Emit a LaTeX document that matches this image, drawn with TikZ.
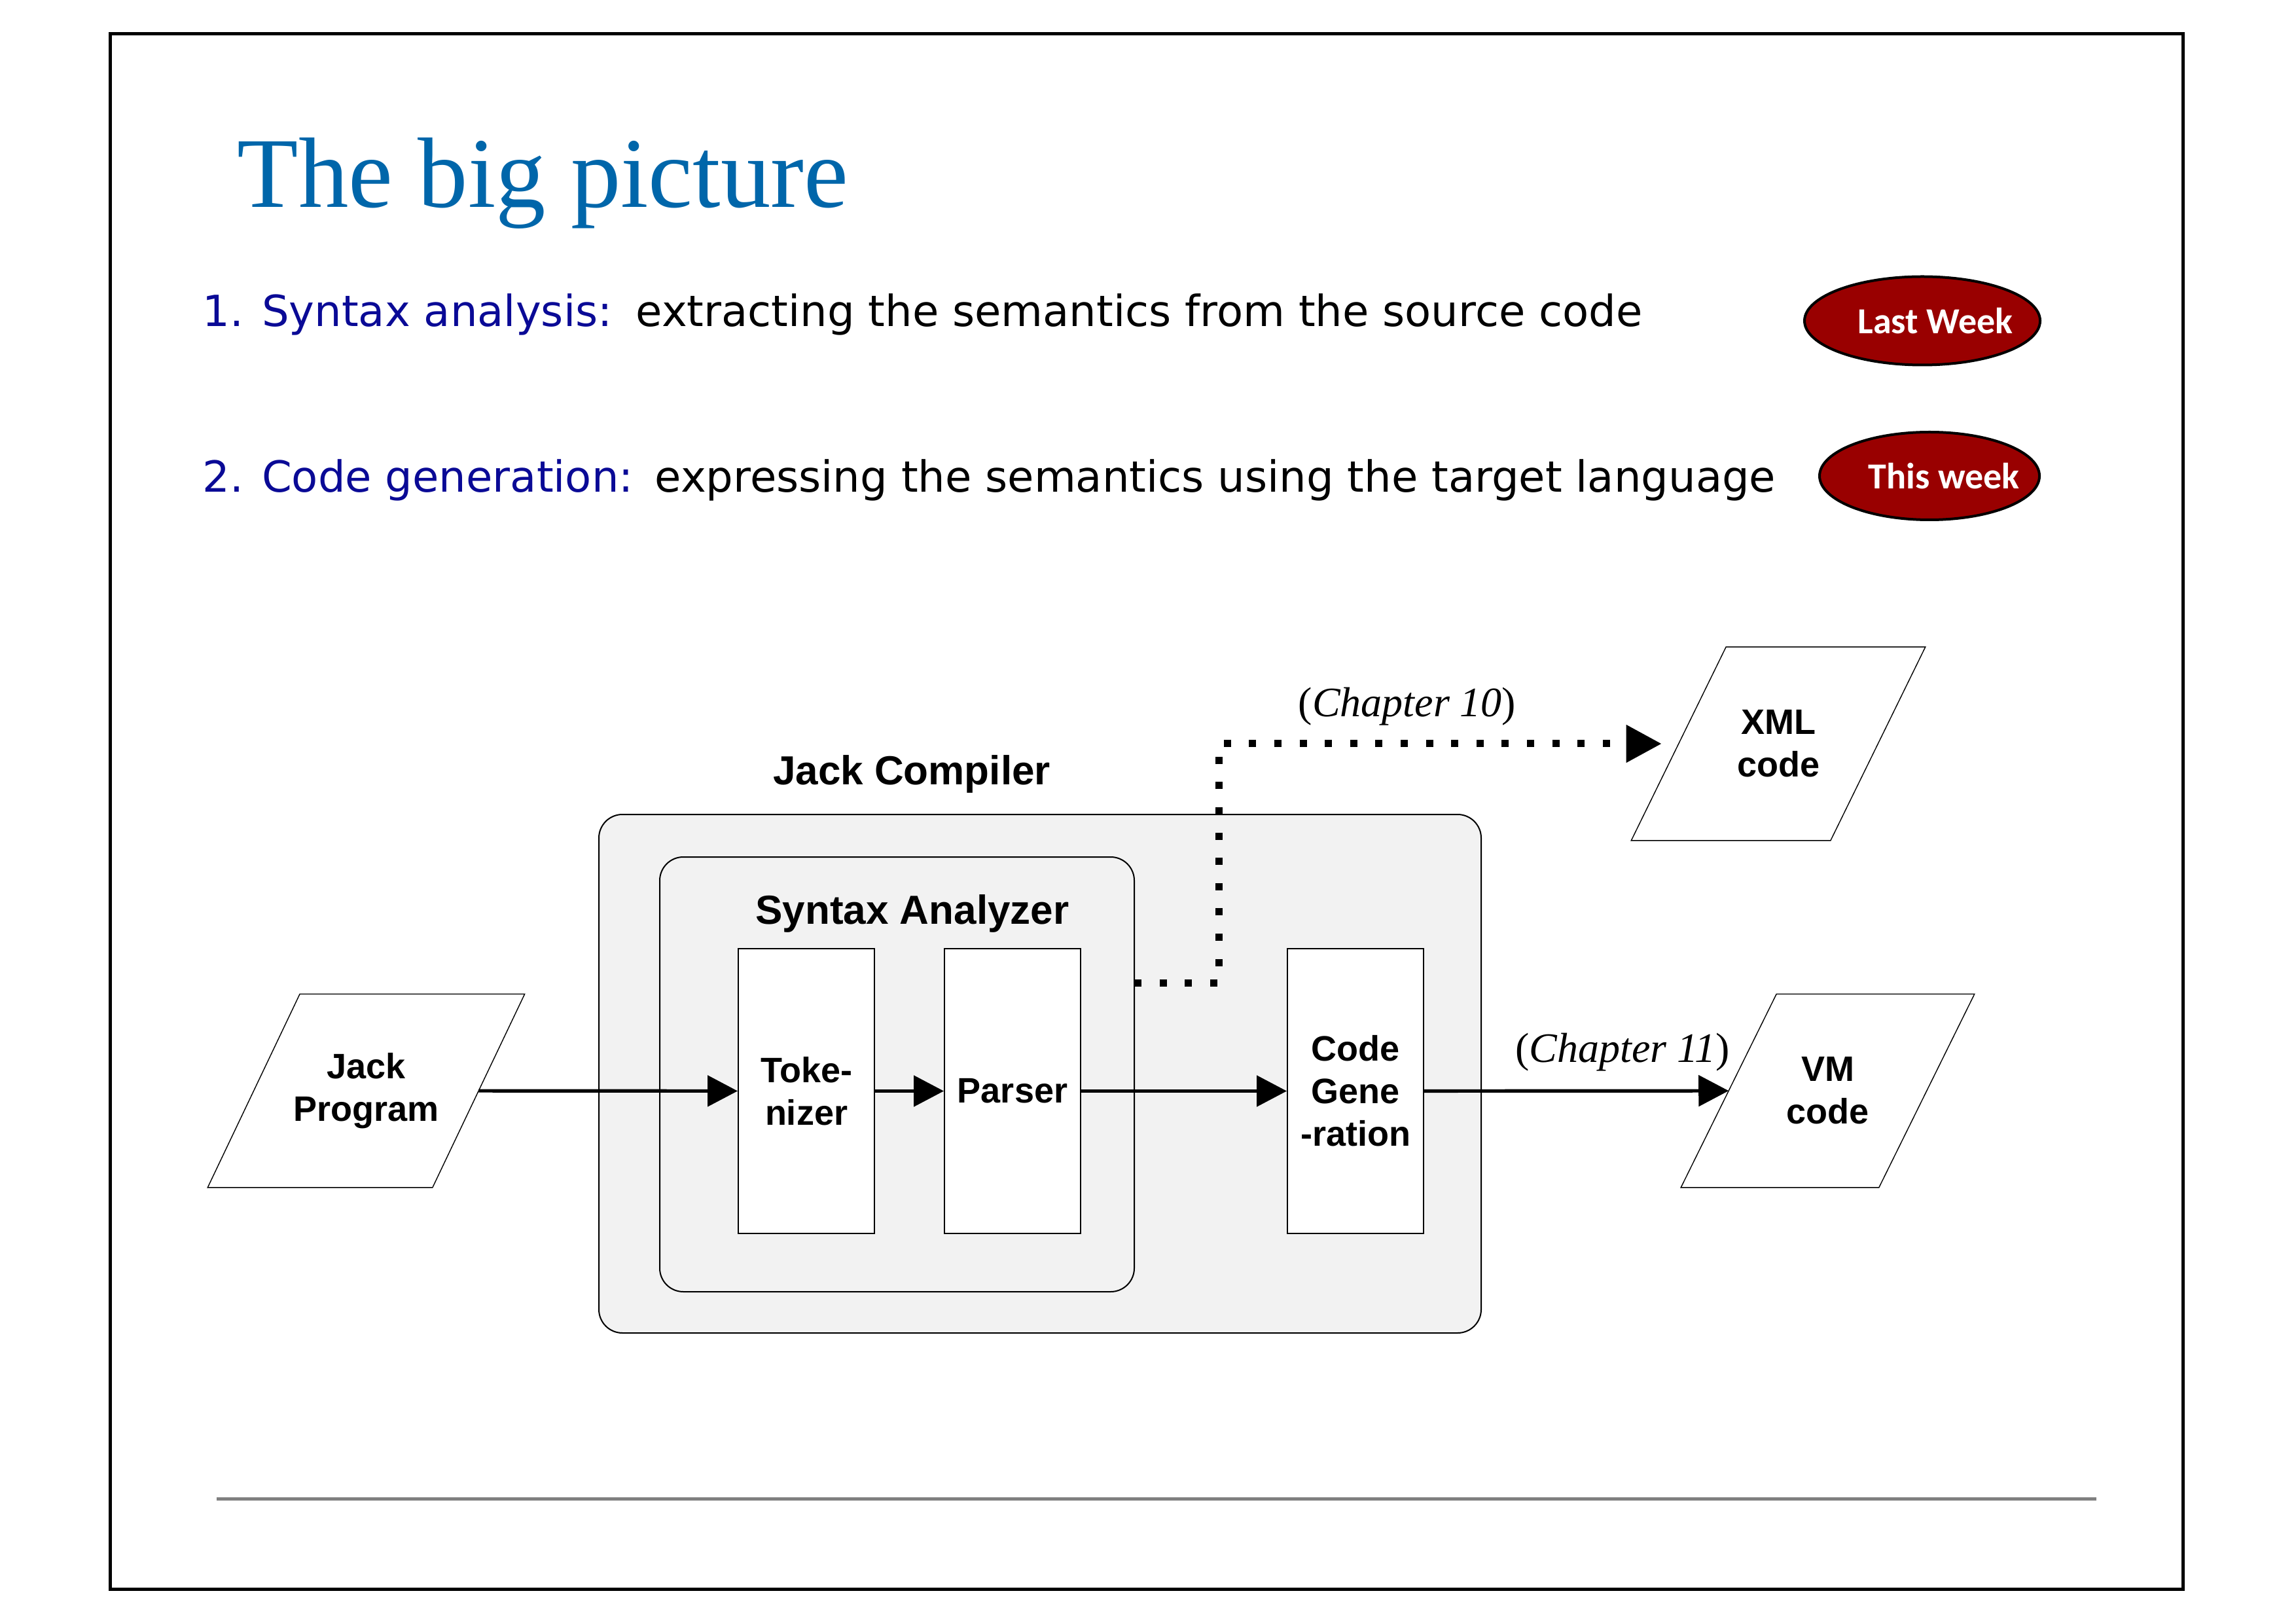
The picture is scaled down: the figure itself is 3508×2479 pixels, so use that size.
\documentclass[tikz,border=0pt]{standalone}
\usepackage{fontspec}
\setmainfont{Liberation Sans}
\newfontfamily\titlefont{Liberation Serif}
\newfontfamily\itemfont{DejaVu Sans}
\newfontfamily\tagfont{Carlito}
\usetikzlibrary{shapes.geometric,arrows.meta}
\definecolor{titleblue}{RGB}{0,102,170}
\definecolor{itemblue}{RGB}{10,10,150}
\definecolor{tagred}{RGB}{153,0,0}
\definecolor{boxgray}{RGB}{242,242,242}
\definecolor{rulegray}{RGB}{128,128,128}
\tikzstyle{stage} = [rectangle, draw, line width=0.5pt, fill=white, minimum width=52pt, minimum height=108.75pt, inner sep=0pt, align=center, font=\bfseries\fontsize{13.5}{16.25}\selectfont]
\tikzstyle{module} = [rectangle, rounded corners=9pt, draw, line width=0.5pt, fill=boxgray, inner sep=0pt]
\tikzstyle{iodata} = [rectangle, minimum height=73.5pt, inner sep=0pt, align=center, font=\bfseries\fontsize{13.5}{16.25}\selectfont]
\tikzstyle{slant} = [draw, line width=0.35pt]
\tikzstyle{weektag} = [ellipse, draw, line width=1pt, fill=tagred, text=white, inner sep=0pt, font=\tagfont\bfseries\fontsize{14}{16}\selectfont]
\tikzstyle{itemtext} = [anchor=base west, inner sep=0pt, font=\itemfont\fontsize{16.4}{20}\selectfont]
\tikzstyle{label} = [anchor=base, inner sep=0pt]
\tikzstyle{line} = [draw, line width=1.3pt, -{Triangle[length=11.5pt,width=11.75pt]}]
\tikzstyle{dotline} = [draw, line width=2.75pt, dash pattern=on 2.75pt off 6.9pt, -{Triangle[length=13.5pt,width=13.75pt]}, shorten >=6.5pt]

\begin{document}
\begin{tikzpicture}[x=0.25pt, y=-0.25pt]
\useasboundingbox (0,0) rectangle (3508,2479);
\draw[line width=1.25pt] (168.5,51.5) rectangle (3335.5,2427);

\node [anchor=base west, inner sep=0pt, text=titleblue, font=\titlefont\fontsize{38.2}{45}\selectfont] (title) at (362,317) {The big picture};

\node [itemtext, text=itemblue] (syn) at (309,499) {1. Syntax analysis:};
\node [itemtext] (syndesc) at (971,499) {extracting the semantics from the source code};
\node [itemtext, text=itemblue] (gen) at (309,752) {2. Code generation:};
\node [itemtext] (gendesc) at (1000,752) {expressing the semantics using the target language};

\node [weektag, minimum width=90pt, minimum height=33.75pt] (last) at (2937,490) {\makebox[0pt]{\hspace*{10pt}Last Week}};
\node [weektag, minimum width=84pt, minimum height=33.5pt] (this) at (2948,727) {\makebox[0pt]{\hspace*{11pt}This week}};

% the compiler and its parts
\node [module, minimum width=337pt, minimum height=198pt] (comp) at (1589,1640) {};
\node [label, font=\bfseries\fontsize{15.5}{18}\selectfont] (complabel) at (1393,1198) {Jack Compiler};
\node [module, minimum width=181.25pt, minimum height=166pt] (sa) at (1370.5,1641) {};
\node [label, font=\bfseries\fontsize{15.5}{18}\selectfont] (salabel) at (1394,1411) {Syntax Analyzer};
\node [stage] (tok) at (1232,1666.5) {Toke-\\nizer};
\node [stage] (par) at (1547,1666.5) {Parser};
\node [stage] (cg) at (2071,1666.5) {Code\\Gene\\-ration};

% input and outputs
\node [iodata, minimum width=85.5pt] (jack) at (559.5,1666) {Jack\\Program};
\node [iodata, minimum width=75.75pt] (xml) at (2717,1136) {XML\\code};
\node [iodata, minimum width=75.25pt] (vm) at (2792.5,1666) {VM\\code};
\foreach \n/\d in {jack/17.6pt, xml/18.1pt, vm/18.25pt}
  \draw [slant] ([xshift=\d]\n.north west) -- ([xshift=\d]\n.north east)
    -- ([xshift=-\d]\n.south east) -- ([xshift=-\d]\n.south west) -- cycle;

\path [line] (jack) -- (tok);
\path [line] (tok) -- (par);
\path [line] (par) -- (cg);
\path [line] (cg) -- (vm);

\coordinate (xmlout) at (1733,1501);
\path [dotline] (xmlout) -| (1862,1136) -- (xml);

\node [label, font=\titlefont\fontsize{16}{19}\selectfont] (ch10) at (2150,1095) {(\textit{Chapter 10})};
\node [label, font=\titlefont\fontsize{16}{19}\selectfont] (ch11) at (2479,1622) {(\textit{Chapter 11})};

\draw [rulegray, line width=1.25pt] (331,2289.5) -- (3203,2289.5);
\end{tikzpicture}
\end{document}
